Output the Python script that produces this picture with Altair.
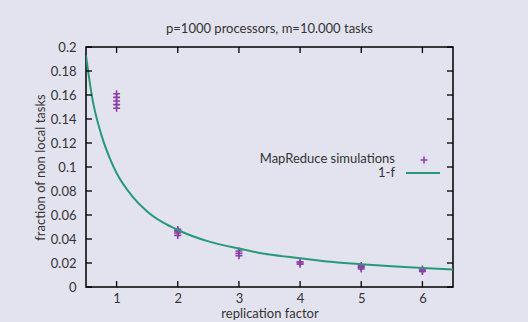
import altair as alt
import pandas as pd

# simulation results (replication factor -> fraction of non local tasks)
sim_x = [1, 1, 1, 1, 1, 2, 2, 2, 2, 2, 3, 3, 3, 4, 4, 4, 5, 5, 5, 5, 6, 6, 6]
sim_y = [0.149, 0.152, 0.155, 0.158, 0.161,
         0.043, 0.045, 0.046, 0.047, 0.048,
         0.026, 0.028, 0.030,
         0.019, 0.020, 0.021,
         0.015, 0.016, 0.017, 0.018,
         0.013, 0.014, 0.015]

# 1-f curve
curve_x = [0.5, 0.6, 0.75, 0.9, 1.0, 1.25, 1.5, 1.75, 2.0, 2.5, 3.0, 3.5, 4.0, 4.5, 5.0, 5.5, 6.0, 6.5]
curve_y = [0.193, 0.158, 0.127, 0.106, 0.095, 0.076, 0.063, 0.054, 0.0475, 0.038, 0.032,
           0.027, 0.024, 0.021, 0.019, 0.0173, 0.0158, 0.0146]

y_ticks = [0, 0.02, 0.04, 0.06, 0.08, 0.1, 0.12, 0.14, 0.16, 0.18, 0.2]
x_ticks = [1, 2, 3, 4, 5, 6]

PURPLE = "#8b3fa6"
GREEN = "#27997a"
FONT = "Lato"
FS = 13
W, H = 367, 240

sim = pd.DataFrame({"x": sim_x, "y": sim_y})
curve = pd.DataFrame({"x": curve_x, "y": curve_y})
yt = pd.DataFrame({"v": y_ticks})
xt = pd.DataFrame({"v": x_ticks})

xscale = alt.Scale(domain=[0.5, 6.5], nice=False, zero=False)
yscale = alt.Scale(domain=[0, 0.2], nice=False)

xaxis = alt.Axis(values=x_ticks, title="replication factor", tickSize=0,
                 domain=False, grid=False, labelPadding=5, titlePadding=2,
                 labelOverlap=False, format="d")
yaxis = alt.Axis(values=y_ticks, title="fraction of non local tasks", tickSize=0,
                 domain=False, grid=False, labelPadding=10, titlePadding=3,
                 labelOverlap=False,
                 labelExpr="datum.value == 0 ? '0' : format(datum.value, '.2~f')")

plus = "M -1 0 L 1 0 M 0 -1 L 0 1"

points = alt.Chart(sim).mark_point(
    shape=plus, filled=False, size=49, strokeWidth=1.6, color=PURPLE, opacity=1
).encode(
    x=alt.X("x:Q", scale=xscale, axis=xaxis),
    y=alt.Y("y:Q", scale=yscale, axis=yaxis),
)

line = alt.Chart(curve).mark_line(color=GREEN, strokeWidth=2, interpolate="monotone", clip=True).encode(
    x=alt.X("x:Q", scale=xscale, axis=xaxis), y=alt.Y("y:Q", scale=yscale, axis=yaxis)
)

tick_style = dict(color="black", strokeWidth=1.3)
yl = alt.Chart(yt).mark_rule(**tick_style).encode(
    y=alt.Y("v:Q", scale=yscale, axis=yaxis), x=alt.value(0), x2=alt.value(6))
yr = alt.Chart(yt).mark_rule(**tick_style).encode(
    y=alt.Y("v:Q", scale=yscale, axis=yaxis), x=alt.value(W), x2=alt.value(W - 6))
xb = alt.Chart(xt).mark_rule(**tick_style).encode(
    x=alt.X("v:Q", scale=xscale, axis=xaxis), y=alt.value(H), y2=alt.value(H - 6))
xtp = alt.Chart(xt).mark_rule(**tick_style).encode(
    x=alt.X("v:Q", scale=xscale, axis=xaxis), y=alt.value(0), y2=alt.value(6))

# legend (gnuplot style: label on the left, key on the right)
leg_txt = pd.DataFrame({"t": ["MapReduce simulations", "1-f"], "yy": [112, 126]})
legend_text = alt.Chart(leg_txt).mark_text(align="right", baseline="middle", font=FONT,
                                           fontSize=FS, color="#333333").encode(
    text="t:N", x=alt.value(309), y=alt.Y("yy:Q", scale=None))
legend_pt = alt.Chart(pd.DataFrame({"k": [0]})).mark_point(
    shape=plus, filled=False, size=49, strokeWidth=1.6, color=PURPLE, opacity=1
).encode(x=alt.value(338), y=alt.value(113))
legend_ln = alt.Chart(pd.DataFrame({"k": [0]})).mark_rule(color=GREEN, strokeWidth=2).encode(
    x=alt.value(320), x2=alt.value(354), y=alt.value(126))

chart = alt.layer(points, line, yl, yr, xb, xtp, legend_text, legend_pt, legend_ln).properties(
    width=W, height=H,
    title=alt.Title("p=1000 processors, m=10.000 tasks", font=FONT, fontSize=FS,
                    fontWeight="normal", color="#333333", offset=5),
    autosize=alt.AutoSizeParams(type="none"),
    padding={"left": 86, "top": 47, "right": 75, "bottom": 35},
    background="#e3e3ef",
).configure_view(stroke="black", strokeWidth=1.5).configure_axis(
    labelFont=FONT, titleFont=FONT, labelFontSize=FS, titleFontSize=FS,
    labelColor="#333333", titleColor="#333333", titleFontWeight="normal",
    labelOverlap=False
)

chart.save("out.html", embed_options={"renderer": "svg", "actions": False})
